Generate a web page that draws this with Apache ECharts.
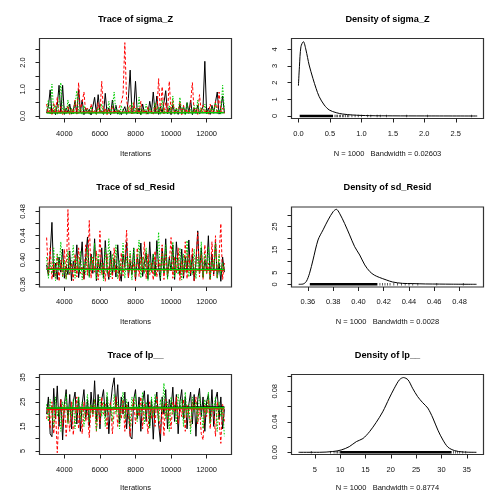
<!DOCTYPE html>
<html><head><meta charset="utf-8">
<script src="https://cdn.jsdelivr.net/npm/echarts@6/dist/echarts.min.js"></script>
<style>html,body{margin:0;padding:0;background:#fff}#c{width:504px;height:504px}</style>
</head><body><div id="c"></div><script>
// ---- iteration grid ----
const iterStart = 3000, iterStep = 100;
const iterTicks = [4000, 6000, 8000, 10000, 12000];

// ---- trace of sigma_Z (chains 1..3) ----
const sigmaZ_c1 = [0.12,0.35,0.98,0.08,0.22,0.05,0.4,1.15,0.1,1.15,0.06,0.3,0.12,0.45,0.07,0.2,0.55,0.09,1.0,0.15,0.6,0.05,0.3,0.11,0.25,0.04,0.35,0.7,0.08,0.8,0.12,0.2,0.06,0.85,0.1,0.3,0.05,0.6,0.15,0.4,0.07,0.2,0.05,0.1,0.35,0.06,0.65,1.72,0.1,0.25,1.3,0.08,0.3,0.05,0.45,0.12,0.2,0.07,0.55,0.15,0.9,0.1,0.75,0.06,0.35,0.12,0.5,0.95,0.08,0.3,0.05,0.4,0.15,0.25,0.06,0.45,0.1,0.35,0.07,0.5,0.12,0.6,0.05,0.3,0.1,0.4,0.08,0.2,0.35,2.05,0.1,0.3,0.06,0.4,0.15,0.1,0.9,0.07,0.3,0.75,0.12];
const sigmaZ_c2 = [0.45,0.1,0.3,0.06,0.5,0.15,0.7,0.08,0.35,0.05,0.25,0.1,0.4,0.06,0.3,0.12,0.6,0.07,1.25,0.2,0.5,0.9,0.1,0.3,0.05,0.45,0.12,0.2,0.06,0.5,0.1,1.3,0.08,0.3,0.05,0.25,0.1,0.4,0.07,0.2,0.12,0.35,0.5,0.8,2.75,0.6,0.15,0.4,0.08,0.5,0.12,0.3,0.06,0.55,0.1,0.25,0.05,0.35,0.12,0.2,0.07,0.45,0.1,1.4,0.15,1.1,0.08,0.5,0.12,1.3,0.1,0.6,0.06,0.3,0.12,0.55,0.05,0.4,0.1,0.25,0.07,0.5,1.25,0.12,0.3,0.06,0.8,0.15,0.4,0.1,0.25,0.05,0.45,0.12,0.2,0.55,0.08,0.9,0.15,0.3,0.1];
const sigmaZ_c3 = [0.2,0.6,0.08,1.2,0.15,0.4,0.06,0.5,1.25,0.1,0.35,0.07,0.6,0.12,0.3,0.05,0.45,0.95,0.1,0.3,0.06,0.4,0.12,0.25,0.07,0.35,0.1,0.2,0.05,0.3,0.12,0.45,0.07,0.2,0.1,0.55,0.06,0.3,0.9,0.12,0.25,0.05,0.4,0.1,0.2,0.06,0.35,0.12,0.5,0.07,0.3,0.1,0.7,0.05,0.25,0.12,0.45,0.08,0.3,0.06,0.2,0.5,0.1,0.35,0.05,0.6,0.12,0.25,0.07,0.4,0.1,0.75,0.06,0.3,0.12,0.7,0.08,0.35,0.05,0.5,0.1,0.25,0.07,0.4,0.12,0.6,0.06,0.3,0.1,0.45,0.05,0.2,0.12,0.35,0.07,0.5,0.1,0.25,0.06,1.15,0.2];
const sigmaZ_smooth = [[0.13,0.13],[0.14,0.135],[0.12,0.125]];

// ---- trace of sd_Resid ----
const sdResid_c1 = [0.392,0.375,0.41,0.462,0.372,0.395,0.368,0.405,0.38,0.418,0.37,0.39,0.376,0.415,0.366,0.398,0.382,0.425,0.371,0.395,0.43,0.369,0.405,0.438,0.373,0.41,0.378,0.435,0.366,0.4,0.383,0.42,0.37,0.432,0.385,0.368,0.415,0.376,0.402,0.372,0.425,0.38,0.365,0.41,0.388,0.43,0.371,0.398,0.376,0.42,0.367,0.405,0.385,0.428,0.373,0.395,0.412,0.369,0.43,0.38,0.41,0.374,0.432,0.388,0.366,0.42,0.378,0.435,0.371,0.405,0.382,0.425,0.368,0.43,0.39,0.375,0.418,0.37,0.405,0.38,0.433,0.374,0.41,0.366,0.395,0.448,0.378,0.42,0.372,0.4,0.385,0.44,0.369,0.41,0.377,0.43,0.371,0.395,0.365,0.405,0.38];
const sdResid_c2 = [0.437,0.378,0.42,0.368,0.395,0.372,0.41,0.365,0.4,0.374,0.418,0.369,0.483,0.376,0.395,0.366,0.41,0.372,0.42,0.378,0.39,0.368,0.425,0.375,0.465,0.37,0.405,0.38,0.415,0.367,0.448,0.376,0.395,0.365,0.41,0.372,0.4,0.369,0.42,0.378,0.39,0.366,0.412,0.374,0.4,0.449,0.371,0.41,0.378,0.395,0.366,0.42,0.373,0.405,0.38,0.43,0.369,0.41,0.376,0.395,0.367,0.415,0.372,0.4,0.38,0.425,0.368,0.41,0.375,0.395,0.437,0.37,0.405,0.378,0.42,0.366,0.398,0.374,0.43,0.369,0.41,0.377,0.42,0.365,0.4,0.445,0.372,0.41,0.368,0.425,0.376,0.395,0.366,0.43,0.374,0.44,0.37,0.405,0.46,0.368,0.395];
const sdResid_c3 = [0.405,0.37,0.395,0.378,0.42,0.366,0.41,0.382,0.43,0.372,0.4,0.368,0.415,0.377,0.395,0.424,0.37,0.405,0.38,0.415,0.367,0.398,0.376,0.42,0.371,0.405,0.383,0.428,0.368,0.41,0.375,0.395,0.366,0.42,0.378,0.435,0.372,0.41,0.38,0.425,0.369,0.4,0.376,0.428,0.37,0.405,0.38,0.415,0.367,0.42,0.374,0.395,0.433,0.37,0.405,0.378,0.42,0.366,0.4,0.38,0.41,0.372,0.395,0.446,0.37,0.41,0.378,0.425,0.368,0.4,0.382,0.43,0.371,0.405,0.376,0.42,0.367,0.41,0.38,0.432,0.372,0.4,0.376,0.418,0.369,0.405,0.38,0.43,0.371,0.41,0.378,0.422,0.368,0.4,0.382,0.428,0.37,0.41,0.376,0.395,0.385];
const sdResid_smooth = [[0.3848,0.3846],[0.3855,0.3832],[0.3845,0.3842]];

// ---- trace of lp__ ----
const lp_c1 = [20,27,12,10.8,30.5,18,31.5,15,26,9.5,24,30,17,28,14,25,29,16,27,13,24,30,18,26,15,29,20,33.6,17,28,14,26,30,19,27,12,24,31,34.8,22,32,16,27,20,29,14,25,11,9.9,26,30,18,27,13,25,29.5,17,28,15,26,9.8,24,29,16,8.8,27,20,30,14,26,22,31,17,28,12,25,30,18,27,14,24,29,16,28,11,26,30.5,19,27,13,25,28,17,30,15,26,29,18,27,14,22];
const lp_c2 = [18,23,14,25,12,22,4.3,20,26,15,24,11,21,13,25,11.5,20,27,14,23,12,25,17,22,10.5,24,19,26,13,23,16,27,20,24,14,22,25,12,21,27,15,23,18,26,13,24,20,11,22,26,16,23,19,27,14,24,21,12,25,18,23,15,27,20,12,24,11,26,18,23,14,25,21,27,16,23,19,26,13,24,20,15,25,22,27,16,23,12,9.5,24,19,26,14,23,21,11,25,18,8.1,24,17];
const lp_c3 = [24,17,26,20,15,27,19,23,13,25,21,28,16,24,19,26,14,23,27,18,25,15,22,28,17,24,20,26,13,23,27,19,25,15,29,21,24,17,28,20,25,14,23,29,18,26,21,15,27,22,28,17,24,20,29,16,25,22,14,27,19,28,23,17,26,21,32.6,18,25,13,27,20,24,16,28,22,26,15,29,19,24,12,27,21,25,17,28,22,14,26,20,29,16,24,21,27,13,25,19,23,11];
const lp_smooth = [[22.4,22.9],[21.9,22.3],[22.5,22.6]];

// ---- densities ----
const densSigmaZ = [[0.0,1.82],[0.016,2.96],[0.04,4.16],[0.079,4.46],[0.12,3.96],[0.17,3.06],[0.23,2.26],[0.28,1.66],[0.33,1.16],[0.41,0.66],[0.49,0.36],[0.6,0.2],[0.7,0.12],[0.86,0.06],[1.13,0.02],[1.5,0.008],[2.0,0.004],[2.84,0.0]];
const densSdResid = [[0.3527,0],[0.356,0.1],[0.3587,1.2],[0.3613,4.8],[0.364,10.5],[0.368,19.2],[0.372,23.6],[0.376,27.9],[0.380,31.5],[0.3825,32.5],[0.385,30.8],[0.389,26.4],[0.393,21.4],[0.397,16.3],[0.401,12.7],[0.405,8.4],[0.409,5.5],[0.4125,4.0],[0.4165,3.0],[0.422,1.9],[0.427,1.0],[0.435,0.4],[0.443,0.3],[0.453,0.15],[0.464,0.1],[0.474,0.05],[0.4935,0]];
const densLp = [[1.8,0],[5.9,0],[8.55,0.001],[10.2,0.003],[11.8,0.0074],[13.2,0.014],[14.5,0.018],[15.8,0.027],[17.1,0.039],[18.4,0.053],[19.7,0.071],[20.7,0.084],[21.7,0.095],[22.5,0.098],[23.4,0.095],[24.3,0.084],[25.3,0.073],[26.3,0.065],[27.3,0.058],[28.3,0.045],[29.3,0.029],[30.3,0.016],[31.3,0.0066],[32.6,0.0022],[34.2,0.0004],[36.9,0]];

// rug: dense ranges and isolated observations
const rugSigmaZBand = [0.02, 0.55];
const rugSigmaZTicks = [0.58,0.6,0.62,0.65,0.67,0.7,0.72,0.75,0.78,0.8,0.85,0.9,0.95,1.0,1.1,1.15,1.25,1.3,1.4,1.72,2.05,2.75];
const rugSdBand = [0.3615, 0.415];
const rugSdTicks = [0.417,0.419,0.421,0.423,0.425,0.428,0.431,0.434,0.437,0.44,0.443,0.447,0.462,0.483];
const rugLpBand = [10.0, 32.0];
const rugLpTicks = [4.3,8.1,8.8,9.2,9.5,9.8,32.4,32.8,33.2,33.6,34.2,34.8];

const titles = ['Trace of sigma_Z','Density of sigma_Z','Trace of sd_Resid','Density of sd_Resid','Trace of lp__','Density of lp__'];
const bwTexts = ['N = 1000   Bandwidth = 0.02603','N = 1000   Bandwidth = 0.0028','N = 1000   Bandwidth = 0.8774'];

// ---- layout ----
const FONT = '"Liberation Sans", Arial, sans-serif';
const colLeft = [39.5, 291.5], boxW = 192, boxH = 80;
const rowTop = [38.5, 207, 374.5];
const titleY = [19, 187, 355];
const subY = [154, 321.5, 488];
const chainCols = ['#000000', '#ff0000', '#00cd00'];
const chainDash = ['solid', [3, 2], [1.5, 1.5]];

const grids = [], xAxes = [], yAxes = [], series = [], graphics = [];
function mkAxis(gi, min, max, ticks, labels, dec, isY) {
  return {
    type: 'value', gridIndex: gi, min: min, max: max,
    axisLine: { show: false, onZero: false },
    splitLine: { show: false },
    axisTick: { show: true, length: 4, lineStyle: { color: '#222', width: 1 }, customValues: ticks },
    axisLabel: { show: true, customValues: labels, formatter: v => Number(v).toFixed(dec),
      fontSize: 7.5, fontFamily: FONT, color: '#111', margin: isY ? 13 : 11, rotate: isY ? 90 : 0 }
  };
}
for (let r = 0; r < 3; r++) for (let c = 0; c < 2; c++) {
  grids.push({ left: colLeft[c], top: rowTop[r], width: boxW, height: boxH, show: true,
    borderColor: '#333', borderWidth: 1.2, backgroundColor: 'transparent', containLabel: false });
  const cx = colLeft[c] + boxW / 2;
  graphics.push({ type: 'text', x: cx, y: titleY[r], style: { text: titles[r * 2 + c], font: 'bold 9.2px ' + FONT, fill: '#000', align: 'center', verticalAlign: 'middle', textAlign: 'center', textVerticalAlign: 'middle' } });
  graphics.push({ type: 'text', x: cx, y: subY[r], style: { text: c === 0 ? 'Iterations' : bwTexts[r], font: '7.5px ' + FONT, fill: '#111', align: 'center', verticalAlign: 'middle', textAlign: 'center', textVerticalAlign: 'middle' } });
}
const tr = (a, b, s) => { const o = []; for (let v = a; v <= b + 1e-9; v += s) o.push(+v.toFixed(4)); return o; };
// trace sigma_Z
xAxes.push(mkAxis(0, 2600, 13400, iterTicks, iterTicks, 0, false));
yAxes.push(mkAxis(0, -0.094, 2.906, tr(0, 2.5, 0.5), [0, 1, 2], 1, true));
// density sigma_Z
xAxes.push(mkAxis(1, -0.11, 2.94, tr(0, 2.5, 0.5), tr(0, 2.5, 0.5), 1, false));
yAxes.push(mkAxis(1, -0.15, 4.65, [0, 1, 2, 3, 4], [0, 1, 2, 3, 4], 0, true));
// trace sd_Resid
xAxes.push(mkAxis(2, 2600, 13400, iterTicks, iterTicks, 0, false));
yAxes.push(mkAxis(2, 0.3556, 0.4873, tr(0.36, 0.48, 0.02), [0.36, 0.40, 0.44, 0.48], 2, true));
// density sd_Resid
xAxes.push(mkAxis(3, 0.347, 0.499, tr(0.36, 0.48, 0.02), tr(0.36, 0.48, 0.02), 2, false));
yAxes.push(mkAxis(3, -1.17, 33.5, tr(0, 30, 5), [0, 5, 15, 25], 0, true));
// trace lp__
xAxes.push(mkAxis(4, 2600, 13400, iterTicks, iterTicks, 0, false));
yAxes.push(mkAxis(4, 3.57, 36.14, tr(5, 35, 5), [5, 15, 25, 35], 0, true));
// density lp__
xAxes.push(mkAxis(5, 0.4, 38.3, tr(5, 35, 5), tr(5, 35, 5), 0, false));
yAxes.push(mkAxis(5, -0.0029, 0.102, tr(0, 0.1, 0.02), [0, 0.04, 0.08], 2, true));

// trace series
const traces = [[sigmaZ_c1, sigmaZ_c2, sigmaZ_c3, sigmaZ_smooth], [sdResid_c1, sdResid_c2, sdResid_c3, sdResid_smooth], [lp_c1, lp_c2, lp_c3, lp_smooth]];
traces.forEach((t, r) => {
  const gi = r * 2;
  for (let k = 0; k < 3; k++) {
    series.push({ type: 'line', xAxisIndex: gi, yAxisIndex: gi, symbol: 'none', animation: false, clip: true,
      data: t[k].map((v, i) => [iterStart + i * iterStep, v]),
      lineStyle: { color: chainCols[k], width: 1, type: chainDash[k] } });
  }
  for (let k = 0; k < 3; k++) {
    const n = t[k].length;
    series.push({ type: 'line', xAxisIndex: gi, yAxisIndex: gi, symbol: 'none', animation: false, z: 5,
      data: [[iterStart, t[3][k][0]], [iterStart + (n - 1) * iterStep, t[3][k][1]]],
      lineStyle: { color: chainCols[k], width: 1.3 } });
  }
});
// density series
const dens = [[densSigmaZ, rugSigmaZBand, rugSigmaZTicks], [densSdResid, rugSdBand, rugSdTicks], [densLp, rugLpBand, rugLpTicks]];
dens.forEach((d, r) => {
  const gi = r * 2 + 1;
  series.push({ type: 'line', xAxisIndex: gi, yAxisIndex: gi, symbol: 'none', animation: false, smooth: 0.3,
    data: d[0], lineStyle: { color: '#000', width: 1 } });
  series.push({ type: 'line', xAxisIndex: gi, yAxisIndex: gi, symbol: 'none', animation: false,
    data: [[d[1][0], 0], [d[1][1], 0]], lineStyle: { color: '#000', width: 2.5 } });
  series.push({ type: 'scatter', xAxisIndex: gi, yAxisIndex: gi, symbol: 'rect', symbolSize: [0.8, 2.5], animation: false,
    data: d[2].map(v => [v, 0]), itemStyle: { color: '#000' } });
});

const chart = echarts.init(document.getElementById('c'), null, { renderer: 'canvas' });
chart.setOption({ animation: false, backgroundColor: '#fff', grid: grids, xAxis: xAxes, yAxis: yAxes, series: series, graphic: graphics });
</script></body></html>
